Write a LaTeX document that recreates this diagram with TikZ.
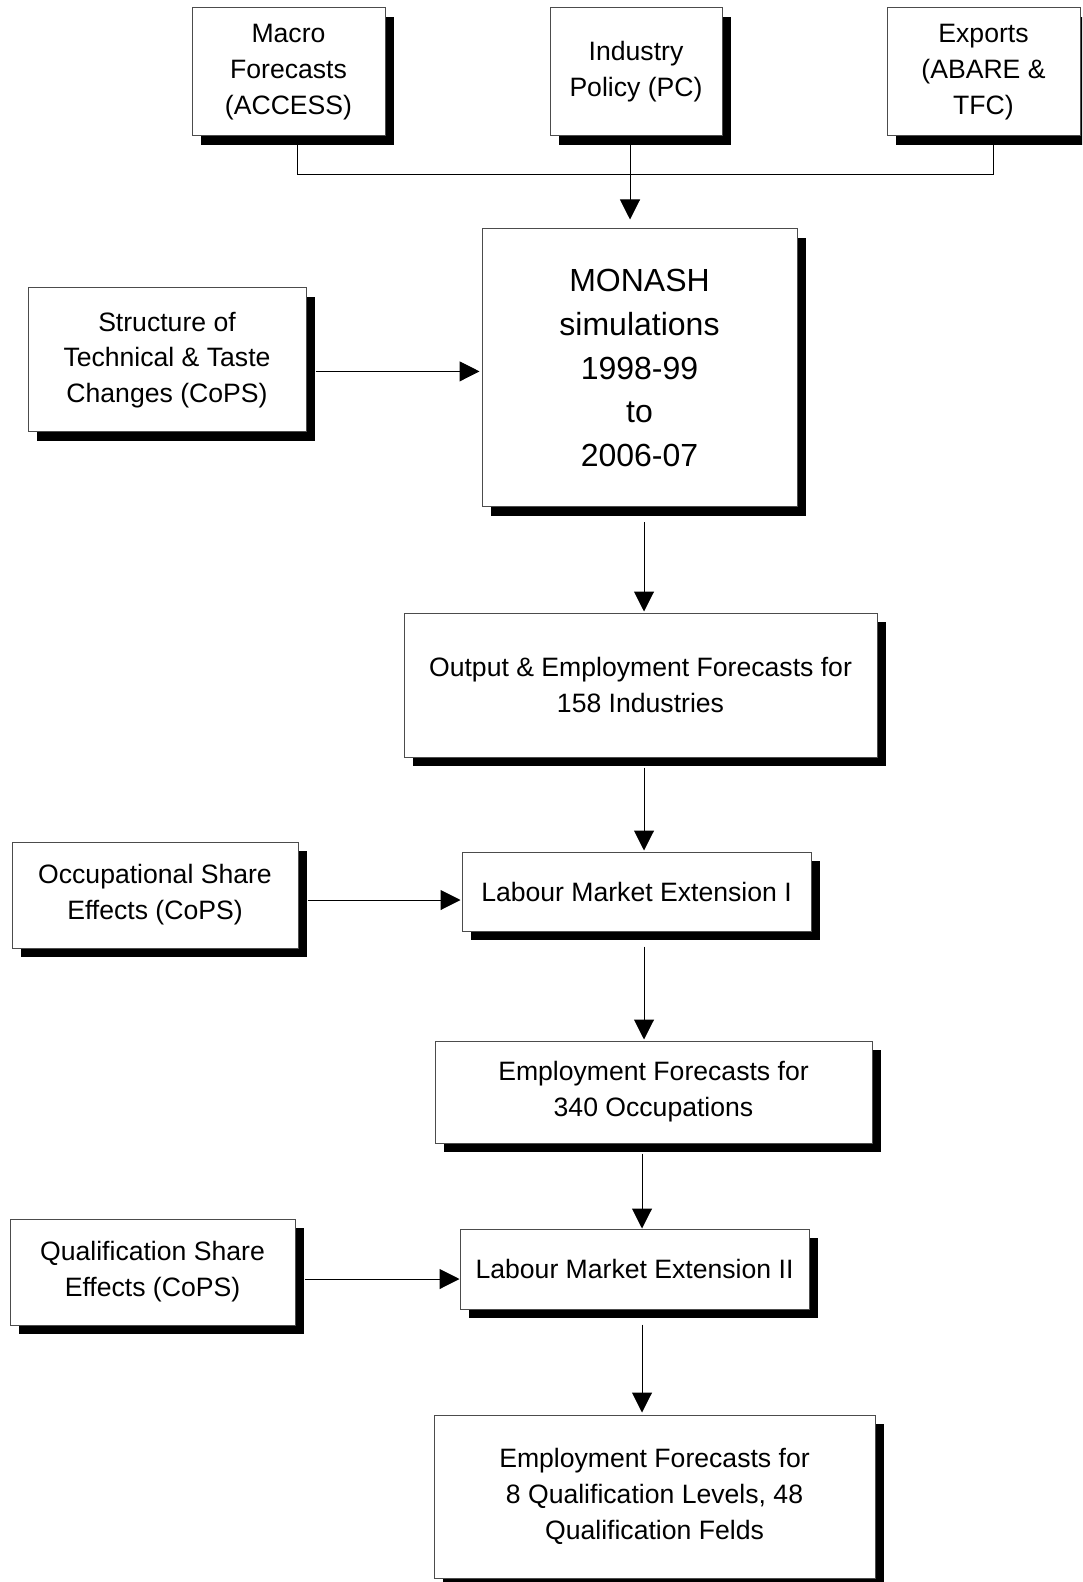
\documentclass[tikz,border=0pt]{standalone}
\usepackage{fontspec}
\setmainfont{Liberation Sans}
\usetikzlibrary{arrows.meta,shadows}

\begin{document}
\begin{tikzpicture}[
                            x=0.5pt, y=-0.5pt,
                            >={Triangle[length=10pt,width=10pt]},
                            box/.style={draw=black!70, line width=0.5pt, fill=white, rectangle,
                                align=center, inner sep=0pt,
                                font=\fontsize{13.3}{17.9}\selectfont,
                                general shadow={fill=black, draw=none, shadow xshift=4.5pt, shadow yshift=-4.5pt}},
                            line/.style={draw, line width=0.5pt}
                            ]

                            \useasboundingbox (0,0) rectangle (1082,1582);
                            \clip (0,0) rectangle (1082,1582);

                            \node [box, minimum width=96.5pt, minimum height=64pt] (macro) at (288.5,72) {Macro\\Forecasts\\(ACCESS)};
                            \node [box, minimum width=86pt, minimum height=64pt] (industry) at (636,72) {Industry\\Policy (PC)};
                            \node [box, minimum width=96.5pt, minimum height=64pt] (exports) at (983.5,72) {Exports\\(ABARE \&\\TFC)};

                            \node [box, minimum width=139pt, minimum height=72pt] (structure) at (167,360) {Structure of\\Technical \& Taste\\Changes (CoPS)};
                            \node [box, minimum width=157.5pt, minimum height=139pt, font=\fontsize{16}{21.8}\selectfont] (monash) at (639.5,368) {MONASH\\simulations\\1998-99\\to\\2006-07};

                            \node [box, minimum width=236.5pt, minimum height=72pt] (output) at (640.5,685) {Output \& Employment Forecasts for\\158 Industries};

                            \node [box, minimum width=174.5pt, minimum height=39.5pt] (lme1) at (636.5,891.5) {Labour Market Extension I};
                            \node [box, minimum width=143pt, minimum height=53pt] (occup) at (155,895) {Occupational Share\\Effects (CoPS)};

                            \node [box, minimum width=218.5pt, minimum height=51pt] (emp) at (653.5,1092) {Employment Forecasts for\\340 Occupations};

                            \node [box, minimum width=174.5pt, minimum height=40pt] (lme2) at (634.5,1269) {Labour Market Extension II};
                            \node [box, minimum width=142.5pt, minimum height=53pt] (qual) at (152.5,1272) {Qualification Share\\Effects (CoPS)};

                            \node [box, minimum width=220.5pt, minimum height=81.5pt] (final) at (654.5,1496.5) {Employment Forecasts for\\8 Qualification Levels, 48\\Qualification Felds};

                            \draw[line] ([xshift=4.25pt,yshift=-4.5pt]macro.south) |- ([xshift=4.75pt,yshift=-18.8pt]exports.south) -- ([xshift=4.75pt,yshift=-4.5pt]exports.south);
                            \draw[line,->] ([xshift=-3pt,yshift=-4.5pt]industry.south) -- ([xshift=-4.75pt,yshift=4.5pt]monash.north);
                            \draw[line,->] ([xshift=4.5pt,yshift=-5.7pt]structure.east) -- ([xshift=-1pt,yshift=-1.7pt]monash.west);
                            \draw[line,->] ([xshift=2.25pt,yshift=-7.5pt]monash.south) -- ([xshift=1.75pt,yshift=0.5pt]output.north);
                            \draw[line,->] ([xshift=1.75pt,yshift=-5pt]output.south) -- ([xshift=3.75pt,yshift=0.5pt]lme1.north);
                            \draw[line,->] ([xshift=4.5pt,yshift=-2.5pt]occup.east) -- ([xshift=-0.5pt,yshift=-4.25pt]lme1.west);
                            \draw[line,->] ([xshift=3.75pt,yshift=-7.5pt]lme1.south) -- ([xshift=-4.75pt,yshift=0.5pt]emp.north);
                            \draw[line,->] ([xshift=-5.75pt,yshift=-5pt]emp.south) -- ([xshift=3.75pt]lme2.north);
                            \draw[line,->] ([xshift=4.5pt,yshift=-3.5pt]qual.east) -- ([yshift=-5pt]lme2.west);
                            \draw[line,->] ([xshift=3.75pt,yshift=-7.5pt]lme2.south) -- ([xshift=-6.25pt,yshift=1pt]final.north);

                        \end{tikzpicture}
\end{document}
